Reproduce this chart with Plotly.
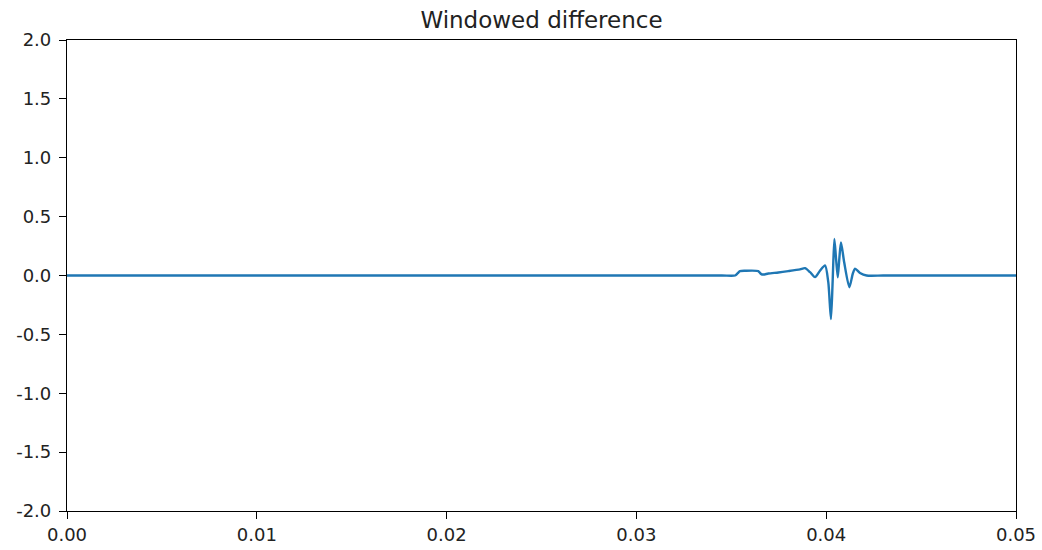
import plotly.graph_objects as go

# Windowed difference signal: flat at zero except for a short burst near t = 0.04 s
t = [0.0, 0.01, 0.02, 0.03, 0.0345, 0.0352, 0.03534, 0.03546, 0.03572, 0.03642,
     0.03656, 0.03669, 0.03695, 0.03748, 0.03800, 0.03862, 0.03888, 0.03915,
     0.03941, 0.03967, 0.03994, 0.04011, 0.04025, 0.04034, 0.04043, 0.04052,
     0.04061, 0.04069, 0.04078, 0.04095, 0.04122, 0.04140, 0.04152, 0.04178,
     0.04213, 0.0430, 0.045, 0.05]
diff = [0.0, 0.0, 0.0, 0.0, 0.0, 0.0, 0.02, 0.037, 0.04, 0.037,
        0.014, 0.008, 0.017, 0.026, 0.037, 0.052, 0.062, 0.028,
        -0.014, 0.04, 0.085, -0.057, -0.37, -0.05, 0.31, 0.14,
        -0.015, 0.14, 0.28, 0.11, -0.10, 0.015, 0.057, 0.022,
        0.0, 0.0, 0.0, 0.0]

x_ticks = [0.00, 0.01, 0.02, 0.03, 0.04, 0.05]
x_labels = ["0.00", "0.01", "0.02", "0.03", "0.04", "0.05"]
y_ticks = [2.0, 1.5, 1.0, 0.5, 0.0, -0.5, -1.0, -1.5, -2.0]
y_labels = ["2.0", "1.5", "1.0", "0.5", "0.0", "-0.5", "-1.0", "-1.5", "-2.0"]

fig = go.Figure(
    go.Scatter(
        x=t, y=diff, mode="lines",
        line=dict(color="#1f77b4", width=2.4, shape="spline", smoothing=0.7),
        showlegend=False,
    )
)

axis_common = dict(
    showline=True, linecolor="black", linewidth=1.2, mirror=True,
    ticks="outside", ticklen=7, tickwidth=1.2, tickcolor="black",
    showgrid=False, zeroline=False, automargin=False,
    tickfont=dict(family="DejaVu Sans", size=18, color="#222"),
)

fig.update_layout(
    width=1042, height=550,
    margin=dict(l=67, r=26, t=40, b=39),
    paper_bgcolor="white", plot_bgcolor="white",
    title=dict(text="Windowed difference", x=0.5, xref="paper", xanchor="center",
               y=1, yref="paper", yanchor="bottom", pad=dict(b=12),
               font=dict(family="DejaVu Sans", size=23, color="#222")),
    xaxis=dict(range=[0, 0.05], tickvals=x_ticks, ticktext=x_labels, **axis_common),
    yaxis=dict(range=[-2, 2], tickvals=y_ticks, ticktext=y_labels,
               ticklabelstandoff=4, **axis_common),
)

fig.write_html("out.html")
